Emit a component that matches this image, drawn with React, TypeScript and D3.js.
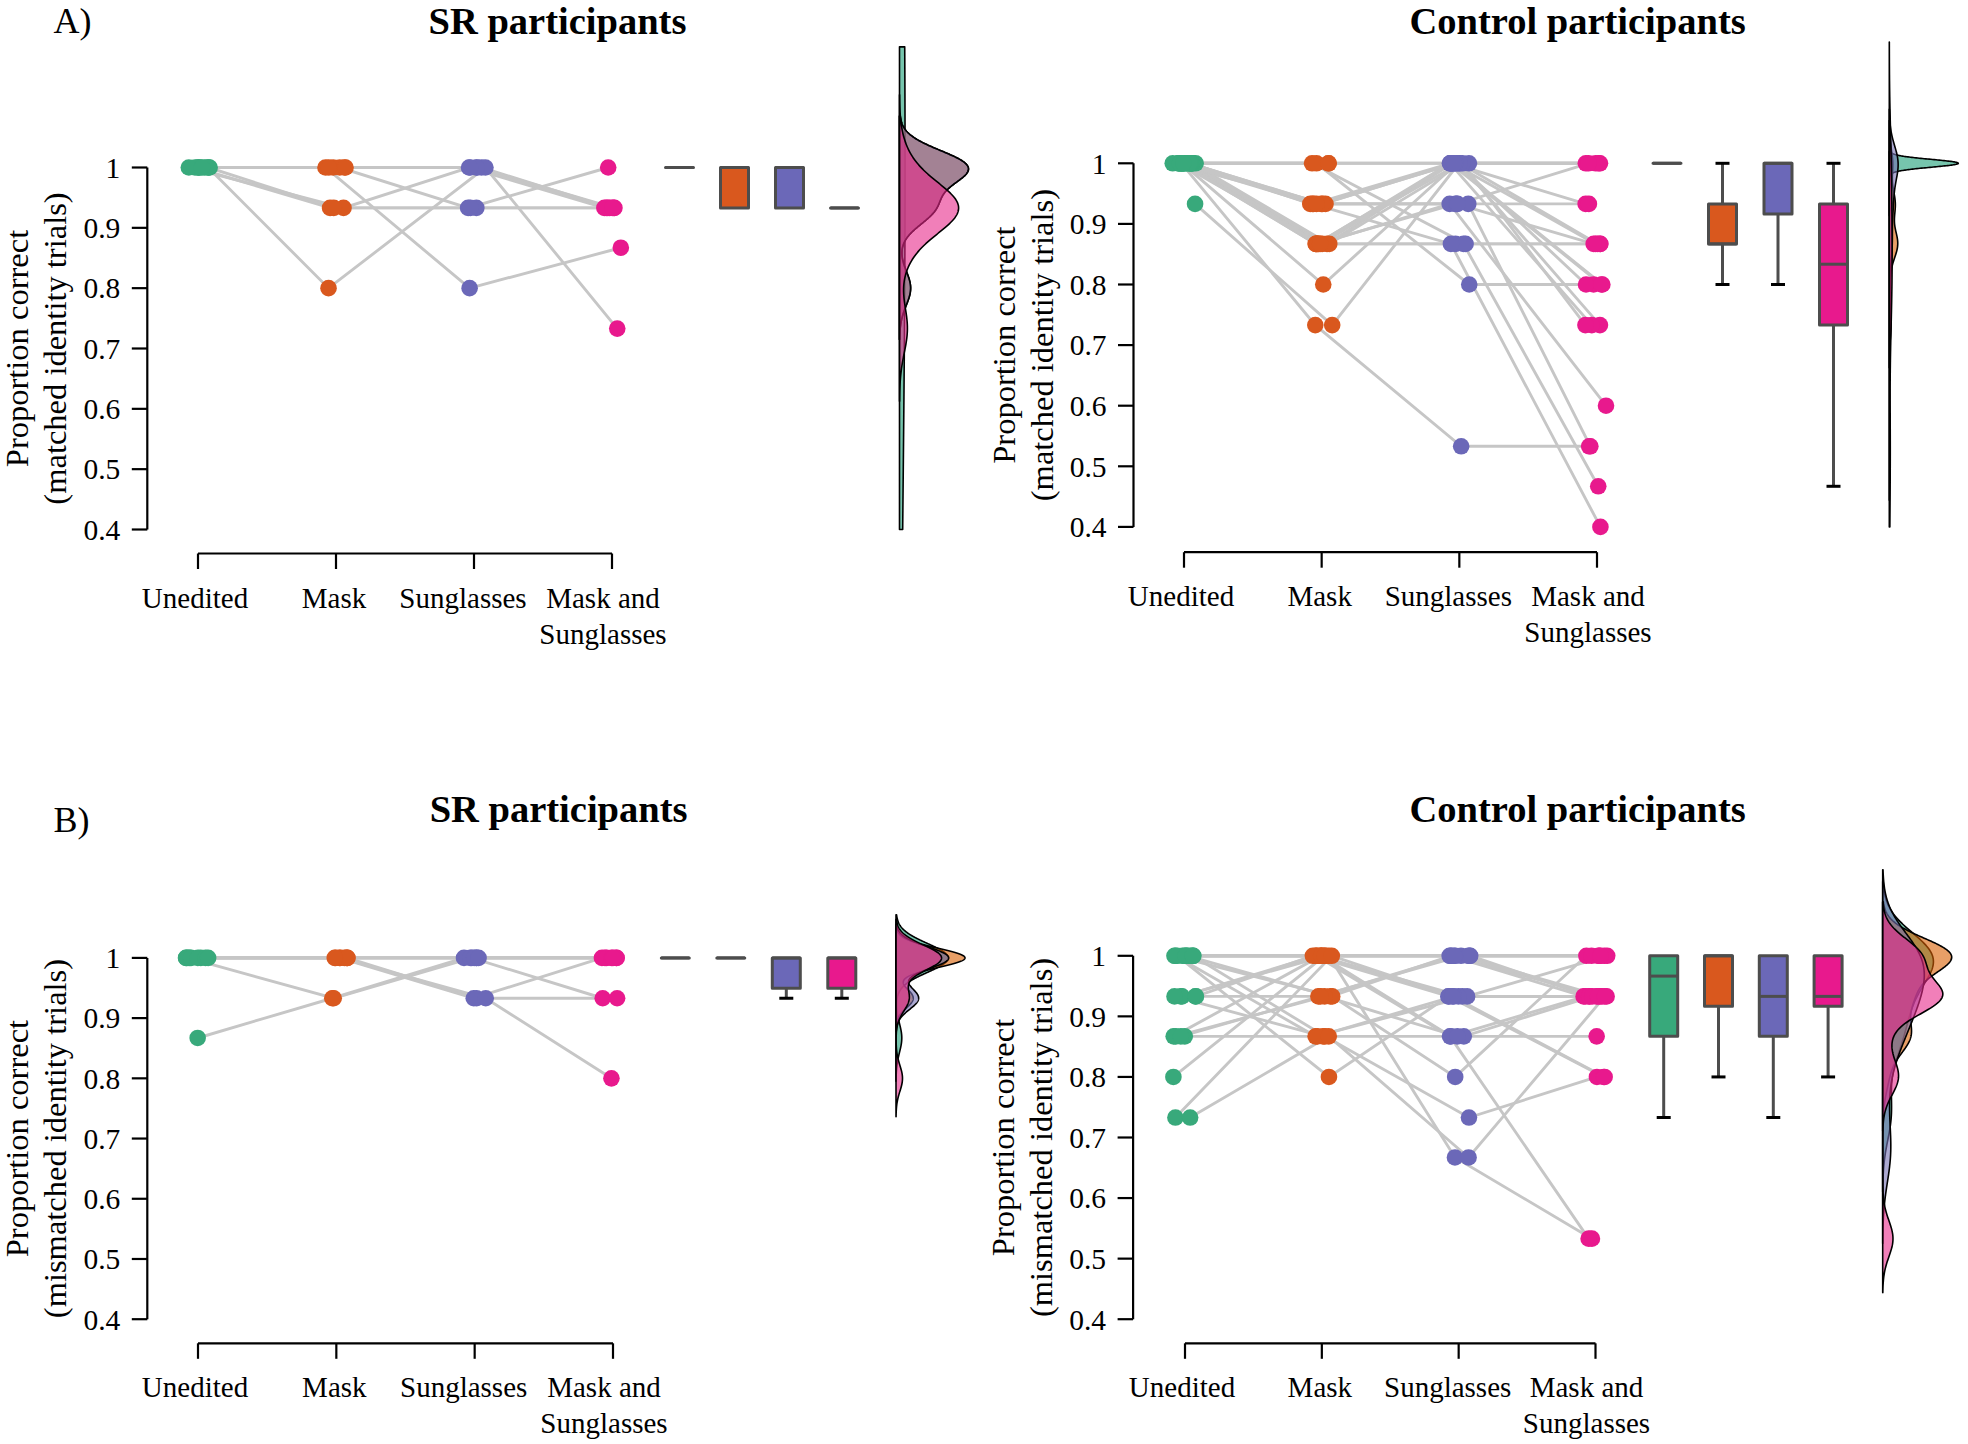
import React from "react";
import * as d3 from "d3";

// ---------------- data ----------------
const CONDITIONS = ["Unedited", "Mask", "Sunglasses", "Mask and Sunglasses"];
const CONDITION_LABEL_LINES = [["Unedited"], ["Mask"], ["Sunglasses"], ["Mask and", "Sunglasses"]];
const Y_TICKS = [0.4, 0.5, 0.6, 0.7, 0.8, 0.9, 1];
const Y_TICK_LABELS = ["0.4", "0.5", "0.6", "0.7", "0.8", "0.9", "1"];
const POINT_COLORS = ["#38a97b", "#d9581e", "#6b68b8", "#e8198d"];
const DENSITY_COLORS = ["#1b9e77", "#d95f02", "#7570b3", "#e7298a"];

// A) matched identity trials, SR participants (one entry per participant)
const SR_MATCHED_UNEDITED = [1, 1, 1, 1, 1, 1, 1, 1, 1, 1];
const SR_MATCHED_MASK = [1, 1, 1, 1, 0.8, 1, 0.933, 0.933, 0.933, 1];
const SR_MATCHED_SUNGLASSES = [1, 1, 0.933, 0.8, 1, 1, 0.933, 1, 0.933, 1];
const SR_MATCHED_MASK_SUNGLASSES = [0.933, 0.933, 1, 0.867, 0.733, 0.933, 0.933, 0.933, 0.933, 0.933];

// A) matched identity trials, control participants
const CTRL_MATCHED_UNEDITED = [1, 1, 1, 1, 0.933, 1, 1, 1, 1, 1, 1, 1, 1, 1, 1, 1, 1, 1, 1, 1, 1, 1, 1, 1];
const CTRL_MATCHED_MASK = [1, 1, 1, 1, 0.733, 0.733, 0.8, 0.867, 0.867, 0.867, 0.867, 0.867, 0.867, 0.867, 0.867, 0.867, 0.867, 0.933, 0.933, 0.933, 0.933, 0.933, 0.933, 0.933];
const CTRL_MATCHED_SUNGLASSES = [1, 0.867, 0.8, 1, 1, 0.533, 1, 1, 1, 1, 1, 0.933, 0.867, 1, 0.933, 1, 0.867, 1, 0.933, 1, 0.933, 0.867, 1, 0.933];
const CTRL_MATCHED_MASK_SUNGLASSES = [1, 0.867, 0.8, 0.933, 0.733, 0.533, 0.8, 0.867, 0.8, 0.733, 1, 0.933, 0.867, 0.733, 0.6, 0.867, 0.467, 1, 0.867, 0.8, 0.533, 0.4, 1, 1];

// B) mismatched identity trials, SR participants
const SR_MISMATCHED_UNEDITED = [0.867, 1, 1, 1, 1, 1, 1, 1, 1, 1];
const SR_MISMATCHED_MASK = [0.933, 0.933, 1, 1, 1, 1, 1, 1, 1, 1];
const SR_MISMATCHED_SUNGLASSES = [1, 1, 0.933, 0.933, 0.933, 1, 1, 1, 1, 1];
const SR_MISMATCHED_MASK_SUNGLASSES = [1, 0.933, 1, 0.933, 0.8, 1, 1, 1, 1, 1];

// B) mismatched identity trials, control participants
const CTRL_MISMATCHED_UNEDITED = [1, 1, 1, 1, 1, 1, 1, 1, 1, 1, 1, 1, 0.933, 0.933, 0.933, 0.933, 0.933, 0.867, 0.867, 0.867, 0.867, 0.8, 0.733, 0.733];
const CTRL_MISMATCHED_MASK = [1, 1, 1, 1, 1, 0.867, 0.8, 0.933, 1, 0.933, 1, 0.867, 1, 1, 0.933, 1, 0.867, 1, 0.867, 0.933, 0.933, 1, 1, 0.867];
const CTRL_MISMATCHED_SUNGLASSES = [1, 1, 0.933, 0.867, 0.667, 0.933, 0.933, 1, 0.867, 0.8, 1, 0.733, 1, 0.933, 1, 0.933, 0.867, 1, 0.933, 0.867, 1, 1, 0.933, 0.667];
const CTRL_MISMATCHED_MASK_SUNGLASSES = [1, 0.933, 0.933, 0.933, 0.533, 1, 0.933, 0.933, 0.533, 1, 0.933, 0.8, 1, 0.933, 0.933, 0.8, 0.933, 1, 0.933, 0.867, 1, 1, 0.8, 0.933];

// ---------------- layout ----------------
const W = 1968;
const H = 1444;
const FONT = "'Liberation Serif', 'Times New Roman', Times, serif";
const LABEL_SHIFT = [-3, -2, -11, -9];

const PANELS = [
  {
    letter: "A)", letterY: 33, title: "SR participants", titleX: 557.5, titleY: 34,
    yLabel: "(matched identity trials)", seed: 11,
    data: [SR_MATCHED_UNEDITED, SR_MATCHED_MASK, SR_MATCHED_SUNGLASSES, SR_MATCHED_MASK_SUNGLASSES],
    axisX: 147.3, y1: 167.5, y04: 529.5, xFirst: 198, xLast: 612, xAxisY: 553.5,
    boxFirst: 679.5, boxStep: 55, densX: 899.5,
  },
  {
    letter: null, letterY: 0, title: "Control participants", titleX: 1577.6, titleY: 34,
    yLabel: "(matched identity trials)", seed: 23,
    data: [CTRL_MATCHED_UNEDITED, CTRL_MATCHED_MASK, CTRL_MATCHED_SUNGLASSES, CTRL_MATCHED_MASK_SUNGLASSES],
    axisX: 1133.5, y1: 163.3, y04: 526.9, xFirst: 1184, xLast: 1597, xAxisY: 552.2,
    boxFirst: 1667, boxStep: 55.5, densX: 1889.3,
  },
  {
    letter: "B)", letterY: 832, title: "SR participants", titleX: 558.6, titleY: 822,
    yLabel: "(mismatched identity trials)", seed: 37,
    data: [SR_MISMATCHED_UNEDITED, SR_MISMATCHED_MASK, SR_MISMATCHED_SUNGLASSES, SR_MISMATCHED_MASK_SUNGLASSES],
    axisX: 147.3, y1: 957.9, y04: 1319.2, xFirst: 198, xLast: 613, xAxisY: 1343.3,
    boxFirst: 675.3, boxStep: 55.5, densX: 896,
  },
  {
    letter: null, letterY: 0, title: "Control participants", titleX: 1577.6, titleY: 822,
    yLabel: "(mismatched identity trials)", seed: 53,
    data: [CTRL_MISMATCHED_UNEDITED, CTRL_MISMATCHED_MASK, CTRL_MISMATCHED_SUNGLASSES, CTRL_MISMATCHED_MASK_SUNGLASSES],
    axisX: 1133.1, y1: 955.8, y04: 1319.2, xFirst: 1185, xLast: 1595.5, xAxisY: 1343.3,
    boxFirst: 1663.7, boxStep: 54.8, densX: 1882.7,
  },
];

const JITTER = 12;
const POINT_R = 8.3;
const BOX_W = 28;
const DENS_MAX_W = 69;
const DENS_CLIP: [number, number] = [0.4, 1.2];

// ---------------- helpers ----------------
function bwNrd0(x: number[]) {
  const s = d3.deviation(x) || 0;
  const sorted = [...x].sort(d3.ascending);
  const iqr = (d3.quantileSorted(sorted, 0.75) as number) - (d3.quantileSorted(sorted, 0.25) as number);
  let lo = Math.min(s, iqr / 1.34);
  if (!lo) lo = s || Math.abs(x[0]) || 1;
  return 0.9 * lo * Math.pow(x.length, -0.2);
}

function kde(x: number[]) {
  const bw = bwNrd0(x);
  const from = Math.max((d3.min(x) as number) - 3 * bw, DENS_CLIP[0]);
  const to = Math.min((d3.max(x) as number) + 3 * bw, DENS_CLIP[1]);
  const N = 400;
  const k = 1 / Math.sqrt(2 * Math.PI);
  return d3.range(N + 1).map((i) => {
    const t = from + ((to - from) * i) / N;
    const dens = (d3.mean(x, (v) => k * Math.exp(-0.5 * ((t - v) / bw) ** 2)) as number) / bw;
    return [t, dens] as [number, number];
  });
}

function boxStats(vals: number[]) {
  const s = [...vals].sort(d3.ascending);
  const q1 = d3.quantileSorted(s, 0.25) as number;
  const med = d3.quantileSorted(s, 0.5) as number;
  const q3 = d3.quantileSorted(s, 0.75) as number;
  const iqr = q3 - q1;
  const lo = d3.min(s.filter((v) => v >= q1 - 1.5 * iqr)) as number;
  const hi = d3.max(s.filter((v) => v <= q3 + 1.5 * iqr)) as number;
  return { q1, med, q3, lo, hi };
}

function Panel({ p }: { p: (typeof PANELS)[number] }) {
  const y = d3.scaleLinear().domain([0.4, 1]).range([p.y04, p.y1]);
  const x = d3.scalePoint<string>().domain(CONDITIONS).range([p.xFirst, p.xLast]);
  const bx = d3
    .scaleBand<string>()
    .domain(CONDITIONS)
    .range([p.boxFirst - p.boxStep / 2, p.boxFirst + p.boxStep * 3.5]);
  const rand = d3.randomUniform.source(d3.randomLcg(p.seed / 100))(-JITTER, JITTER);

  const pts = p.data.map((vals, c) =>
    vals.map((v) => [(x(CONDITIONS[c]) as number) + rand(), y(v)] as [number, number])
  );
  const n = p.data[0].length;
  const line = d3.line();

  const dens = p.data.map((vals) => kde(vals));
  const maxD = d3.max(dens, (d) => d3.max(d, (e) => e[1])) as number;
  const dx = d3.scaleLinear().domain([0, maxD]).range([p.densX, p.densX + DENS_MAX_W]);

  const midY = (p.y1 + p.y04) / 2;

  return (
    <g>
      {p.letter && (
        <text x={53.6} y={p.letterY} fontSize={36} fontFamily={FONT}>
          {p.letter}
        </text>
      )}
      <text x={p.titleX} y={p.titleY} fontSize={38.5} fontWeight="bold" fontFamily={FONT} textAnchor="middle">
        {p.title}
      </text>

      {/* y label */}
      <text
        transform={`translate(${p.axisX - 119},${midY}) rotate(-90)`}
        fontSize={32.5}
        fontFamily={FONT}
        textAnchor="middle"
      >
        Proportion correct
      </text>
      <text
        transform={`translate(${p.axisX - 81},${midY}) rotate(-90)`}
        fontSize={32.5}
        fontFamily={FONT}
        textAnchor="middle"
      >
        {p.yLabel}
      </text>

      {/* y axis */}
      <line x1={p.axisX} x2={p.axisX} y1={y(1)} y2={y(0.4)} stroke="#000" strokeWidth={2.2} />
      {Y_TICKS.map((t, i) => (
        <g key={t}>
          <line x1={p.axisX - 15.5} x2={p.axisX} y1={y(t)} y2={y(t)} stroke="#000" strokeWidth={2.2} />
          <text
            x={p.axisX - 27}
            y={y(t)}
            dy="0.35em"
            fontSize={29.5}
            fontFamily={FONT}
            textAnchor="end"
          >
            {Y_TICK_LABELS[i]}
          </text>
        </g>
      ))}

      {/* x axis */}
      <line x1={p.xFirst} x2={p.xLast} y1={p.xAxisY} y2={p.xAxisY} stroke="#000" strokeWidth={2.2} />
      {CONDITIONS.map((c, i) => (
        <g key={c}>
          <line
            x1={x(c)}
            x2={x(c)}
            y1={p.xAxisY}
            y2={p.xAxisY + 15.5}
            stroke="#000"
            strokeWidth={2.2}
          />
          {CONDITION_LABEL_LINES[i].map((l, j) => (
            <text
              key={j}
              x={(x(c) as number) + LABEL_SHIFT[i]}
              y={p.xAxisY + 54 + j * 36}
              fontSize={29}
              fontFamily={FONT}
              textAnchor="middle"
            >
              {l}
            </text>
          ))}
        </g>
      ))}

      {/* participant lines */}
      {d3.range(n).map((i) => (
        <path
          key={i}
          d={line(pts.map((col) => col[i])) as string}
          fill="none"
          stroke="#c6c6c6"
          strokeWidth={2.9}
        />
      ))}

      {/* points */}
      {pts.map((col, c) =>
        col.map((pt, i) => (
          <circle key={`${c}-${i}`} cx={pt[0]} cy={pt[1]} r={POINT_R} fill={POINT_COLORS[c]} />
        ))
      )}

      {/* boxplots */}
      {p.data.map((vals, c) => {
        const s = boxStats(vals);
        const cx = (bx(CONDITIONS[c]) as number) + bx.bandwidth() / 2;
        const x0 = cx - BOX_W / 2;
        const x1 = cx + BOX_W / 2;
        return (
          <g key={c}>
            {s.hi > s.q3 && (
              <>
                <line x1={cx} x2={cx} y1={y(s.q3)} y2={y(s.hi)} stroke="#4d4d4d" strokeWidth={3} />
                <line x1={cx - 7} x2={cx + 7} y1={y(s.hi)} y2={y(s.hi)} stroke="#000" strokeWidth={3} />
              </>
            )}
            {s.lo < s.q1 && (
              <>
                <line x1={cx} x2={cx} y1={y(s.q1)} y2={y(s.lo)} stroke="#4d4d4d" strokeWidth={3} />
                <line x1={cx - 7} x2={cx + 7} y1={y(s.lo)} y2={y(s.lo)} stroke="#000" strokeWidth={3} />
              </>
            )}
            <path
              d={`M${x0},${y(s.q3)}H${x1}V${y(s.q1)}H${x0}Z`}
              fill={POINT_COLORS[c]}
              stroke="#4d4d4d"
              strokeWidth={3}
              strokeLinejoin="round"
            />
            <line x1={x0} x2={x1} y1={y(s.med)} y2={y(s.med)} stroke="#4d4d4d" strokeWidth={3} />
          </g>
        );
      })}

      {/* densities */}
      {dens.map((d, c) => {
        const path =
          `M${p.densX},${y(d[0][0])}` +
          d.map((e) => `L${dx(e[1])},${y(e[0])}`).join("") +
          `L${p.densX},${y(d[d.length - 1][0])}Z`;
        return (
          <path
            key={c}
            d={path}
            fill={DENSITY_COLORS[c]}
            fillOpacity={0.6}
            stroke="#000"
            strokeWidth={1.6}
            strokeLinejoin="round"
          />
        );
      })}
    </g>
  );
}

export default function App() {
  return (
    <svg
      width={W}
      height={H}
      viewBox={`0 0 ${W} ${H}`}
      style={{ position: "absolute", left: 0, top: 0, background: "#fff" }}
    >
      <rect x={0} y={0} width={W} height={H} fill="#fff" />
      {PANELS.map((p, i) => (
        <Panel key={i} p={p} />
      ))}
    </svg>
  );
}
